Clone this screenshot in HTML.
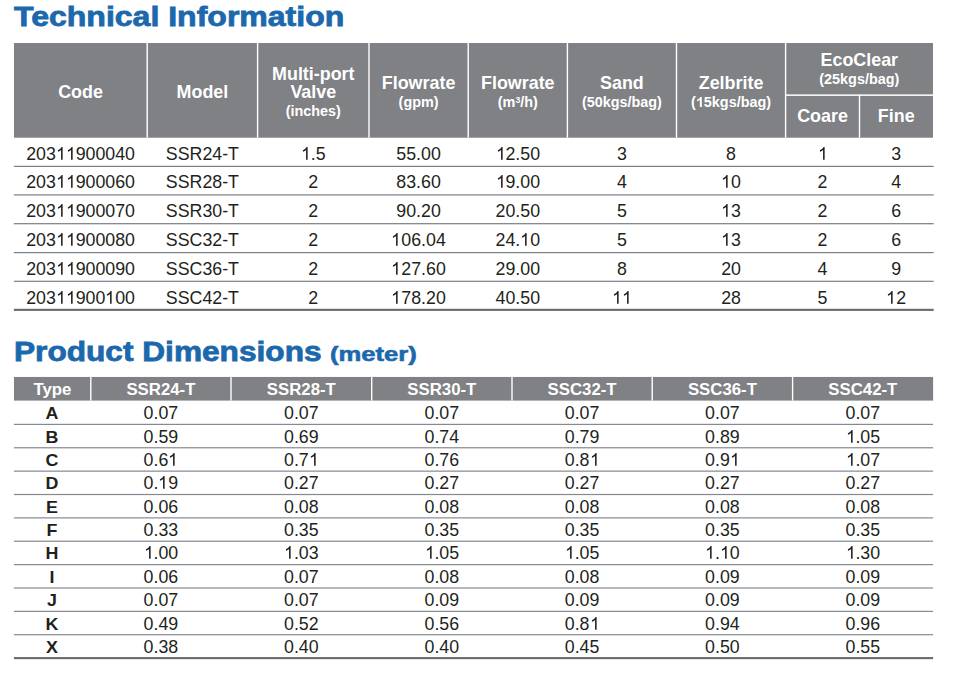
<!DOCTYPE html>
<html><head><meta charset="utf-8"><style>
html,body{margin:0;padding:0;background:#fff;}
body{width:959px;height:674px;position:relative;overflow:hidden;font-family:"Liberation Sans",sans-serif;}
svg.bg{position:absolute;left:0;top:0;}
.t{position:absolute;white-space:nowrap;}
.o{display:inline-block;width:0.5562em;height:0.72266em;vertical-align:baseline;fill:currentColor;}
sup{font-size:0.6em;vertical-align:0;position:relative;top:-0.45em;line-height:0;}
</style></head><body>
<svg class="bg" width="959" height="674" viewBox="0 0 959 674">
<rect x="13.95" y="43.00" width="919.05" height="94.70" fill="#808185"/>
<rect x="146.50" y="43.00" width="1.40" height="94.70" fill="#fff"/>
<rect x="256.90" y="43.00" width="1.40" height="94.70" fill="#fff"/>
<rect x="368.30" y="43.00" width="1.40" height="94.70" fill="#fff"/>
<rect x="467.50" y="43.00" width="1.40" height="94.70" fill="#fff"/>
<rect x="566.70" y="43.00" width="1.40" height="94.70" fill="#fff"/>
<rect x="675.80" y="43.00" width="1.40" height="94.70" fill="#fff"/>
<rect x="784.90" y="43.00" width="1.40" height="94.70" fill="#fff"/>
<rect x="858.80" y="94.60" width="1.40" height="43.10" fill="#fff"/>
<rect x="785.60" y="94.40" width="147.40" height="1.50" fill="#fff"/>
<rect x="13.90" y="165.80" width="919.80" height="1.20" fill="#7b7e83"/>
<rect x="13.90" y="194.30" width="919.80" height="1.20" fill="#7b7e83"/>
<rect x="13.90" y="223.10" width="919.80" height="1.20" fill="#7b7e83"/>
<rect x="13.90" y="252.00" width="919.80" height="1.20" fill="#7b7e83"/>
<rect x="13.90" y="280.70" width="919.80" height="1.20" fill="#7b7e83"/>
<rect x="13.90" y="308.80" width="919.80" height="2.10" fill="#676a6f"/>
<rect x="13.95" y="376.95" width="919.15" height="23.65" fill="#808185"/>
<rect x="90.10" y="376.95" width="1.40" height="23.65" fill="#fff"/>
<rect x="230.30" y="376.95" width="1.40" height="23.65" fill="#fff"/>
<rect x="371.00" y="376.95" width="1.40" height="23.65" fill="#fff"/>
<rect x="511.30" y="376.95" width="1.40" height="23.65" fill="#fff"/>
<rect x="651.50" y="376.95" width="1.40" height="23.65" fill="#fff"/>
<rect x="791.90" y="376.95" width="1.40" height="23.65" fill="#fff"/>
<rect x="13.95" y="423.80" width="919.15" height="1.20" fill="#868990"/>
<rect x="13.95" y="447.17" width="919.15" height="1.20" fill="#868990"/>
<rect x="13.95" y="470.54" width="919.15" height="1.20" fill="#868990"/>
<rect x="13.95" y="493.91" width="919.15" height="1.20" fill="#868990"/>
<rect x="13.95" y="517.28" width="919.15" height="1.20" fill="#868990"/>
<rect x="13.95" y="540.65" width="919.15" height="1.20" fill="#868990"/>
<rect x="13.95" y="564.02" width="919.15" height="1.20" fill="#868990"/>
<rect x="13.95" y="587.39" width="919.15" height="1.20" fill="#868990"/>
<rect x="13.95" y="610.76" width="919.15" height="1.20" fill="#868990"/>
<rect x="13.95" y="634.13" width="919.15" height="1.20" fill="#868990"/>
<rect x="13.95" y="657.05" width="919.15" height="2.10" fill="#676a6f"/>
</svg>
<div class="t" style="top:3px;font-size:27.9px;line-height:27.9px;color:#1c68ad;font-weight:bold;-webkit-text-stroke:0.8px #1c68ad;left:14.34px;transform:scaleX(1.148);transform-origin:0 0;">Technical Information</div>
<div class="t" style="top:338px;font-size:27.9px;line-height:27.9px;color:#1c68ad;font-weight:bold;-webkit-text-stroke:0.8px #1c68ad;left:14.28px;transform:scaleX(1.134);transform-origin:0 0;">Product Dimensions</div>
<div class="t" style="top:343px;font-size:21px;line-height:21px;color:#1c68ad;font-weight:bold;-webkit-text-stroke:0.6px #1c68ad;left:330.00px;transform:scaleX(1.22);transform-origin:0 0;">(meter)</div>
<div class="t" style="top:84px;font-size:17.9px;line-height:17.9px;color:#fff;font-weight:bold;left:-219.43px;width:600px;text-align:center;">Code</div>
<div class="t" style="top:84px;font-size:17.9px;line-height:17.9px;color:#fff;font-weight:bold;left:-97.60px;width:600px;text-align:center;">Model</div>
<div class="t" style="top:66px;font-size:17.9px;line-height:17.9px;color:#fff;font-weight:bold;left:13.30px;width:600px;text-align:center;">Multi-port</div>
<div class="t" style="top:84px;font-size:17.9px;line-height:17.9px;color:#fff;font-weight:bold;left:13.30px;width:600px;text-align:center;">Valve</div>
<div class="t" style="top:104px;font-size:14.4px;line-height:14.4px;color:#fff;font-weight:bold;left:13.30px;width:600px;text-align:center;">(inches)</div>
<div class="t" style="top:75px;font-size:17.9px;line-height:17.9px;color:#fff;font-weight:bold;left:118.60px;width:600px;text-align:center;">Flowrate</div>
<div class="t" style="top:95px;font-size:14.4px;line-height:14.4px;color:#fff;font-weight:bold;left:118.60px;width:600px;text-align:center;">(gpm)</div>
<div class="t" style="top:75px;font-size:17.9px;line-height:17.9px;color:#fff;font-weight:bold;left:217.80px;width:600px;text-align:center;">Flowrate</div>
<div class="t" style="top:95px;font-size:14.4px;line-height:14.4px;color:#fff;font-weight:bold;left:217.80px;width:600px;text-align:center;">(m<sup>3</sup>/h)</div>
<div class="t" style="top:75px;font-size:17.9px;line-height:17.9px;color:#fff;font-weight:bold;left:321.95px;width:600px;text-align:center;">Sand</div>
<div class="t" style="top:95px;font-size:14.4px;line-height:14.4px;color:#fff;font-weight:bold;left:321.95px;width:600px;text-align:center;">(50kgs/bag)</div>
<div class="t" style="top:75px;font-size:17.9px;line-height:17.9px;color:#fff;font-weight:bold;left:431.05px;width:600px;text-align:center;">Zelbrite</div>
<div class="t" style="top:95px;font-size:14.4px;line-height:14.4px;color:#fff;font-weight:bold;left:431.05px;width:600px;text-align:center;">(<svg class="o" viewBox="0 0 1139 1480"><path transform="matrix(1 0 0 -1 0 1480)" d="M544 0L825 0L825 1466L597 1466C565 1376 503 1297 413 1229C323 1161 240 1115 152 1085L152 829C308 880 437 961 544 1073Z"/></svg>5kgs/bag)</div>
<div class="t" style="top:52px;font-size:17.9px;line-height:17.9px;color:#fff;font-weight:bold;left:559.30px;width:600px;text-align:center;">EcoClear</div>
<div class="t" style="top:72px;font-size:14.4px;line-height:14.4px;color:#fff;font-weight:bold;left:559.30px;width:600px;text-align:center;">(25kgs/bag)</div>
<div class="t" style="top:108px;font-size:17.9px;line-height:17.9px;color:#fff;font-weight:bold;left:522.55px;width:600px;text-align:center;">Coare</div>
<div class="t" style="top:108px;font-size:17.9px;line-height:17.9px;color:#fff;font-weight:bold;left:596.25px;width:600px;text-align:center;">Fine</div>
<div class="t" style="top:146px;font-size:17.8px;line-height:17.8px;color:#231f20;left:-219.43px;width:600px;text-align:center;">203<svg class="o" viewBox="0 0 1139 1480"><path transform="matrix(1 0 0 -1 0 1480)" d="M583 0L763 0L763 1472L646 1472C615 1409 563 1344 490 1277C417 1210 330 1150 222 1104L222 930C282 952 350 985 426 1028C502 1071 554 1111 583 1147Z"/></svg><svg class="o" viewBox="0 0 1139 1480"><path transform="matrix(1 0 0 -1 0 1480)" d="M583 0L763 0L763 1472L646 1472C615 1409 563 1344 490 1277C417 1210 330 1150 222 1104L222 930C282 952 350 985 426 1028C502 1071 554 1111 583 1147Z"/></svg>900040</div>
<div class="t" style="top:146px;font-size:17.8px;line-height:17.8px;color:#231f20;left:-97.60px;width:600px;text-align:center;">SSR24-T</div>
<div class="t" style="top:146px;font-size:17.8px;line-height:17.8px;color:#231f20;left:13.30px;width:600px;text-align:center;"><svg class="o" viewBox="0 0 1139 1480"><path transform="matrix(1 0 0 -1 0 1480)" d="M583 0L763 0L763 1472L646 1472C615 1409 563 1344 490 1277C417 1210 330 1150 222 1104L222 930C282 952 350 985 426 1028C502 1071 554 1111 583 1147Z"/></svg>.5</div>
<div class="t" style="top:146px;font-size:17.8px;line-height:17.8px;color:#231f20;left:118.60px;width:600px;text-align:center;">55.00</div>
<div class="t" style="top:146px;font-size:17.8px;line-height:17.8px;color:#231f20;left:217.80px;width:600px;text-align:center;"><svg class="o" viewBox="0 0 1139 1480"><path transform="matrix(1 0 0 -1 0 1480)" d="M583 0L763 0L763 1472L646 1472C615 1409 563 1344 490 1277C417 1210 330 1150 222 1104L222 930C282 952 350 985 426 1028C502 1071 554 1111 583 1147Z"/></svg>2.50</div>
<div class="t" style="top:146px;font-size:17.8px;line-height:17.8px;color:#231f20;left:321.95px;width:600px;text-align:center;">3</div>
<div class="t" style="top:146px;font-size:17.8px;line-height:17.8px;color:#231f20;left:431.05px;width:600px;text-align:center;">8</div>
<div class="t" style="top:146px;font-size:17.8px;line-height:17.8px;color:#231f20;left:522.55px;width:600px;text-align:center;"><svg class="o" viewBox="0 0 1139 1480"><path transform="matrix(1 0 0 -1 0 1480)" d="M583 0L763 0L763 1472L646 1472C615 1409 563 1344 490 1277C417 1210 330 1150 222 1104L222 930C282 952 350 985 426 1028C502 1071 554 1111 583 1147Z"/></svg></div>
<div class="t" style="top:146px;font-size:17.8px;line-height:17.8px;color:#231f20;left:596.25px;width:600px;text-align:center;">3</div>
<div class="t" style="top:174px;font-size:17.8px;line-height:17.8px;color:#231f20;left:-219.43px;width:600px;text-align:center;">203<svg class="o" viewBox="0 0 1139 1480"><path transform="matrix(1 0 0 -1 0 1480)" d="M583 0L763 0L763 1472L646 1472C615 1409 563 1344 490 1277C417 1210 330 1150 222 1104L222 930C282 952 350 985 426 1028C502 1071 554 1111 583 1147Z"/></svg><svg class="o" viewBox="0 0 1139 1480"><path transform="matrix(1 0 0 -1 0 1480)" d="M583 0L763 0L763 1472L646 1472C615 1409 563 1344 490 1277C417 1210 330 1150 222 1104L222 930C282 952 350 985 426 1028C502 1071 554 1111 583 1147Z"/></svg>900060</div>
<div class="t" style="top:174px;font-size:17.8px;line-height:17.8px;color:#231f20;left:-97.60px;width:600px;text-align:center;">SSR28-T</div>
<div class="t" style="top:174px;font-size:17.8px;line-height:17.8px;color:#231f20;left:13.30px;width:600px;text-align:center;">2</div>
<div class="t" style="top:174px;font-size:17.8px;line-height:17.8px;color:#231f20;left:118.60px;width:600px;text-align:center;">83.60</div>
<div class="t" style="top:174px;font-size:17.8px;line-height:17.8px;color:#231f20;left:217.80px;width:600px;text-align:center;"><svg class="o" viewBox="0 0 1139 1480"><path transform="matrix(1 0 0 -1 0 1480)" d="M583 0L763 0L763 1472L646 1472C615 1409 563 1344 490 1277C417 1210 330 1150 222 1104L222 930C282 952 350 985 426 1028C502 1071 554 1111 583 1147Z"/></svg>9.00</div>
<div class="t" style="top:174px;font-size:17.8px;line-height:17.8px;color:#231f20;left:321.95px;width:600px;text-align:center;">4</div>
<div class="t" style="top:174px;font-size:17.8px;line-height:17.8px;color:#231f20;left:431.05px;width:600px;text-align:center;"><svg class="o" viewBox="0 0 1139 1480"><path transform="matrix(1 0 0 -1 0 1480)" d="M583 0L763 0L763 1472L646 1472C615 1409 563 1344 490 1277C417 1210 330 1150 222 1104L222 930C282 952 350 985 426 1028C502 1071 554 1111 583 1147Z"/></svg>0</div>
<div class="t" style="top:174px;font-size:17.8px;line-height:17.8px;color:#231f20;left:522.55px;width:600px;text-align:center;">2</div>
<div class="t" style="top:174px;font-size:17.8px;line-height:17.8px;color:#231f20;left:596.25px;width:600px;text-align:center;">4</div>
<div class="t" style="top:203px;font-size:17.8px;line-height:17.8px;color:#231f20;left:-219.43px;width:600px;text-align:center;">203<svg class="o" viewBox="0 0 1139 1480"><path transform="matrix(1 0 0 -1 0 1480)" d="M583 0L763 0L763 1472L646 1472C615 1409 563 1344 490 1277C417 1210 330 1150 222 1104L222 930C282 952 350 985 426 1028C502 1071 554 1111 583 1147Z"/></svg><svg class="o" viewBox="0 0 1139 1480"><path transform="matrix(1 0 0 -1 0 1480)" d="M583 0L763 0L763 1472L646 1472C615 1409 563 1344 490 1277C417 1210 330 1150 222 1104L222 930C282 952 350 985 426 1028C502 1071 554 1111 583 1147Z"/></svg>900070</div>
<div class="t" style="top:203px;font-size:17.8px;line-height:17.8px;color:#231f20;left:-97.60px;width:600px;text-align:center;">SSR30-T</div>
<div class="t" style="top:203px;font-size:17.8px;line-height:17.8px;color:#231f20;left:13.30px;width:600px;text-align:center;">2</div>
<div class="t" style="top:203px;font-size:17.8px;line-height:17.8px;color:#231f20;left:118.60px;width:600px;text-align:center;">90.20</div>
<div class="t" style="top:203px;font-size:17.8px;line-height:17.8px;color:#231f20;left:217.80px;width:600px;text-align:center;">20.50</div>
<div class="t" style="top:203px;font-size:17.8px;line-height:17.8px;color:#231f20;left:321.95px;width:600px;text-align:center;">5</div>
<div class="t" style="top:203px;font-size:17.8px;line-height:17.8px;color:#231f20;left:431.05px;width:600px;text-align:center;"><svg class="o" viewBox="0 0 1139 1480"><path transform="matrix(1 0 0 -1 0 1480)" d="M583 0L763 0L763 1472L646 1472C615 1409 563 1344 490 1277C417 1210 330 1150 222 1104L222 930C282 952 350 985 426 1028C502 1071 554 1111 583 1147Z"/></svg>3</div>
<div class="t" style="top:203px;font-size:17.8px;line-height:17.8px;color:#231f20;left:522.55px;width:600px;text-align:center;">2</div>
<div class="t" style="top:203px;font-size:17.8px;line-height:17.8px;color:#231f20;left:596.25px;width:600px;text-align:center;">6</div>
<div class="t" style="top:232px;font-size:17.8px;line-height:17.8px;color:#231f20;left:-219.43px;width:600px;text-align:center;">203<svg class="o" viewBox="0 0 1139 1480"><path transform="matrix(1 0 0 -1 0 1480)" d="M583 0L763 0L763 1472L646 1472C615 1409 563 1344 490 1277C417 1210 330 1150 222 1104L222 930C282 952 350 985 426 1028C502 1071 554 1111 583 1147Z"/></svg><svg class="o" viewBox="0 0 1139 1480"><path transform="matrix(1 0 0 -1 0 1480)" d="M583 0L763 0L763 1472L646 1472C615 1409 563 1344 490 1277C417 1210 330 1150 222 1104L222 930C282 952 350 985 426 1028C502 1071 554 1111 583 1147Z"/></svg>900080</div>
<div class="t" style="top:232px;font-size:17.8px;line-height:17.8px;color:#231f20;left:-97.60px;width:600px;text-align:center;">SSC32-T</div>
<div class="t" style="top:232px;font-size:17.8px;line-height:17.8px;color:#231f20;left:13.30px;width:600px;text-align:center;">2</div>
<div class="t" style="top:232px;font-size:17.8px;line-height:17.8px;color:#231f20;left:118.60px;width:600px;text-align:center;"><svg class="o" viewBox="0 0 1139 1480"><path transform="matrix(1 0 0 -1 0 1480)" d="M583 0L763 0L763 1472L646 1472C615 1409 563 1344 490 1277C417 1210 330 1150 222 1104L222 930C282 952 350 985 426 1028C502 1071 554 1111 583 1147Z"/></svg>06.04</div>
<div class="t" style="top:232px;font-size:17.8px;line-height:17.8px;color:#231f20;left:217.80px;width:600px;text-align:center;">24.<svg class="o" viewBox="0 0 1139 1480"><path transform="matrix(1 0 0 -1 0 1480)" d="M583 0L763 0L763 1472L646 1472C615 1409 563 1344 490 1277C417 1210 330 1150 222 1104L222 930C282 952 350 985 426 1028C502 1071 554 1111 583 1147Z"/></svg>0</div>
<div class="t" style="top:232px;font-size:17.8px;line-height:17.8px;color:#231f20;left:321.95px;width:600px;text-align:center;">5</div>
<div class="t" style="top:232px;font-size:17.8px;line-height:17.8px;color:#231f20;left:431.05px;width:600px;text-align:center;"><svg class="o" viewBox="0 0 1139 1480"><path transform="matrix(1 0 0 -1 0 1480)" d="M583 0L763 0L763 1472L646 1472C615 1409 563 1344 490 1277C417 1210 330 1150 222 1104L222 930C282 952 350 985 426 1028C502 1071 554 1111 583 1147Z"/></svg>3</div>
<div class="t" style="top:232px;font-size:17.8px;line-height:17.8px;color:#231f20;left:522.55px;width:600px;text-align:center;">2</div>
<div class="t" style="top:232px;font-size:17.8px;line-height:17.8px;color:#231f20;left:596.25px;width:600px;text-align:center;">6</div>
<div class="t" style="top:261px;font-size:17.8px;line-height:17.8px;color:#231f20;left:-219.43px;width:600px;text-align:center;">203<svg class="o" viewBox="0 0 1139 1480"><path transform="matrix(1 0 0 -1 0 1480)" d="M583 0L763 0L763 1472L646 1472C615 1409 563 1344 490 1277C417 1210 330 1150 222 1104L222 930C282 952 350 985 426 1028C502 1071 554 1111 583 1147Z"/></svg><svg class="o" viewBox="0 0 1139 1480"><path transform="matrix(1 0 0 -1 0 1480)" d="M583 0L763 0L763 1472L646 1472C615 1409 563 1344 490 1277C417 1210 330 1150 222 1104L222 930C282 952 350 985 426 1028C502 1071 554 1111 583 1147Z"/></svg>900090</div>
<div class="t" style="top:261px;font-size:17.8px;line-height:17.8px;color:#231f20;left:-97.60px;width:600px;text-align:center;">SSC36-T</div>
<div class="t" style="top:261px;font-size:17.8px;line-height:17.8px;color:#231f20;left:13.30px;width:600px;text-align:center;">2</div>
<div class="t" style="top:261px;font-size:17.8px;line-height:17.8px;color:#231f20;left:118.60px;width:600px;text-align:center;"><svg class="o" viewBox="0 0 1139 1480"><path transform="matrix(1 0 0 -1 0 1480)" d="M583 0L763 0L763 1472L646 1472C615 1409 563 1344 490 1277C417 1210 330 1150 222 1104L222 930C282 952 350 985 426 1028C502 1071 554 1111 583 1147Z"/></svg>27.60</div>
<div class="t" style="top:261px;font-size:17.8px;line-height:17.8px;color:#231f20;left:217.80px;width:600px;text-align:center;">29.00</div>
<div class="t" style="top:261px;font-size:17.8px;line-height:17.8px;color:#231f20;left:321.95px;width:600px;text-align:center;">8</div>
<div class="t" style="top:261px;font-size:17.8px;line-height:17.8px;color:#231f20;left:431.05px;width:600px;text-align:center;">20</div>
<div class="t" style="top:261px;font-size:17.8px;line-height:17.8px;color:#231f20;left:522.55px;width:600px;text-align:center;">4</div>
<div class="t" style="top:261px;font-size:17.8px;line-height:17.8px;color:#231f20;left:596.25px;width:600px;text-align:center;">9</div>
<div class="t" style="top:290px;font-size:17.8px;line-height:17.8px;color:#231f20;left:-219.43px;width:600px;text-align:center;">203<svg class="o" viewBox="0 0 1139 1480"><path transform="matrix(1 0 0 -1 0 1480)" d="M583 0L763 0L763 1472L646 1472C615 1409 563 1344 490 1277C417 1210 330 1150 222 1104L222 930C282 952 350 985 426 1028C502 1071 554 1111 583 1147Z"/></svg><svg class="o" viewBox="0 0 1139 1480"><path transform="matrix(1 0 0 -1 0 1480)" d="M583 0L763 0L763 1472L646 1472C615 1409 563 1344 490 1277C417 1210 330 1150 222 1104L222 930C282 952 350 985 426 1028C502 1071 554 1111 583 1147Z"/></svg>900<svg class="o" viewBox="0 0 1139 1480"><path transform="matrix(1 0 0 -1 0 1480)" d="M583 0L763 0L763 1472L646 1472C615 1409 563 1344 490 1277C417 1210 330 1150 222 1104L222 930C282 952 350 985 426 1028C502 1071 554 1111 583 1147Z"/></svg>00</div>
<div class="t" style="top:290px;font-size:17.8px;line-height:17.8px;color:#231f20;left:-97.60px;width:600px;text-align:center;">SSC42-T</div>
<div class="t" style="top:290px;font-size:17.8px;line-height:17.8px;color:#231f20;left:13.30px;width:600px;text-align:center;">2</div>
<div class="t" style="top:290px;font-size:17.8px;line-height:17.8px;color:#231f20;left:118.60px;width:600px;text-align:center;"><svg class="o" viewBox="0 0 1139 1480"><path transform="matrix(1 0 0 -1 0 1480)" d="M583 0L763 0L763 1472L646 1472C615 1409 563 1344 490 1277C417 1210 330 1150 222 1104L222 930C282 952 350 985 426 1028C502 1071 554 1111 583 1147Z"/></svg>78.20</div>
<div class="t" style="top:290px;font-size:17.8px;line-height:17.8px;color:#231f20;left:217.80px;width:600px;text-align:center;">40.50</div>
<div class="t" style="top:290px;font-size:17.8px;line-height:17.8px;color:#231f20;left:321.95px;width:600px;text-align:center;"><svg class="o" viewBox="0 0 1139 1480"><path transform="matrix(1 0 0 -1 0 1480)" d="M583 0L763 0L763 1472L646 1472C615 1409 563 1344 490 1277C417 1210 330 1150 222 1104L222 930C282 952 350 985 426 1028C502 1071 554 1111 583 1147Z"/></svg><svg class="o" viewBox="0 0 1139 1480"><path transform="matrix(1 0 0 -1 0 1480)" d="M583 0L763 0L763 1472L646 1472C615 1409 563 1344 490 1277C417 1210 330 1150 222 1104L222 930C282 952 350 985 426 1028C502 1071 554 1111 583 1147Z"/></svg></div>
<div class="t" style="top:290px;font-size:17.8px;line-height:17.8px;color:#231f20;left:431.05px;width:600px;text-align:center;">28</div>
<div class="t" style="top:290px;font-size:17.8px;line-height:17.8px;color:#231f20;left:522.55px;width:600px;text-align:center;">5</div>
<div class="t" style="top:290px;font-size:17.8px;line-height:17.8px;color:#231f20;left:596.25px;width:600px;text-align:center;"><svg class="o" viewBox="0 0 1139 1480"><path transform="matrix(1 0 0 -1 0 1480)" d="M583 0L763 0L763 1472L646 1472C615 1409 563 1344 490 1277C417 1210 330 1150 222 1104L222 930C282 952 350 985 426 1028C502 1071 554 1111 583 1147Z"/></svg>2</div>
<div class="t" style="top:382px;font-size:16.8px;line-height:16.8px;color:#fff;font-weight:bold;left:-247.62px;width:600px;text-align:center;">Type</div>
<div class="t" style="top:382px;font-size:16.8px;line-height:16.8px;color:#fff;font-weight:bold;left:-139.10px;width:600px;text-align:center;">SSR24-T</div>
<div class="t" style="top:382px;font-size:16.8px;line-height:16.8px;color:#fff;font-weight:bold;left:1.35px;width:600px;text-align:center;">SSR28-T</div>
<div class="t" style="top:382px;font-size:16.8px;line-height:16.8px;color:#fff;font-weight:bold;left:141.85px;width:600px;text-align:center;">SSR30-T</div>
<div class="t" style="top:382px;font-size:16.8px;line-height:16.8px;color:#fff;font-weight:bold;left:282.10px;width:600px;text-align:center;">SSC32-T</div>
<div class="t" style="top:382px;font-size:16.8px;line-height:16.8px;color:#fff;font-weight:bold;left:422.40px;width:600px;text-align:center;">SSC36-T</div>
<div class="t" style="top:382px;font-size:16.8px;line-height:16.8px;color:#fff;font-weight:bold;left:562.85px;width:600px;text-align:center;">SSC42-T</div>
<div class="t" style="top:405px;font-size:16.5px;line-height:16.5px;color:#231f20;font-weight:bold;left:-247.62px;width:600px;text-align:center;transform:scaleX(1.08);transform-origin:50% 0;">A</div>
<div class="t" style="top:405px;font-size:17.8px;line-height:17.8px;color:#231f20;left:-139.10px;width:600px;text-align:center;">0.07</div>
<div class="t" style="top:405px;font-size:17.8px;line-height:17.8px;color:#231f20;left:1.35px;width:600px;text-align:center;">0.07</div>
<div class="t" style="top:405px;font-size:17.8px;line-height:17.8px;color:#231f20;left:141.85px;width:600px;text-align:center;">0.07</div>
<div class="t" style="top:405px;font-size:17.8px;line-height:17.8px;color:#231f20;left:282.10px;width:600px;text-align:center;">0.07</div>
<div class="t" style="top:405px;font-size:17.8px;line-height:17.8px;color:#231f20;left:422.40px;width:600px;text-align:center;">0.07</div>
<div class="t" style="top:405px;font-size:17.8px;line-height:17.8px;color:#231f20;left:562.85px;width:600px;text-align:center;">0.07</div>
<div class="t" style="top:429px;font-size:16.5px;line-height:16.5px;color:#231f20;font-weight:bold;left:-247.62px;width:600px;text-align:center;transform:scaleX(1.08);transform-origin:50% 0;">B</div>
<div class="t" style="top:429px;font-size:17.8px;line-height:17.8px;color:#231f20;left:-139.10px;width:600px;text-align:center;">0.59</div>
<div class="t" style="top:429px;font-size:17.8px;line-height:17.8px;color:#231f20;left:1.35px;width:600px;text-align:center;">0.69</div>
<div class="t" style="top:429px;font-size:17.8px;line-height:17.8px;color:#231f20;left:141.85px;width:600px;text-align:center;">0.74</div>
<div class="t" style="top:429px;font-size:17.8px;line-height:17.8px;color:#231f20;left:282.10px;width:600px;text-align:center;">0.79</div>
<div class="t" style="top:429px;font-size:17.8px;line-height:17.8px;color:#231f20;left:422.40px;width:600px;text-align:center;">0.89</div>
<div class="t" style="top:429px;font-size:17.8px;line-height:17.8px;color:#231f20;left:562.85px;width:600px;text-align:center;"><svg class="o" viewBox="0 0 1139 1480"><path transform="matrix(1 0 0 -1 0 1480)" d="M583 0L763 0L763 1472L646 1472C615 1409 563 1344 490 1277C417 1210 330 1150 222 1104L222 930C282 952 350 985 426 1028C502 1071 554 1111 583 1147Z"/></svg>.05</div>
<div class="t" style="top:452px;font-size:16.5px;line-height:16.5px;color:#231f20;font-weight:bold;left:-247.62px;width:600px;text-align:center;transform:scaleX(1.08);transform-origin:50% 0;">C</div>
<div class="t" style="top:452px;font-size:17.8px;line-height:17.8px;color:#231f20;left:-139.10px;width:600px;text-align:center;">0.6<svg class="o" viewBox="0 0 1139 1480"><path transform="matrix(1 0 0 -1 0 1480)" d="M583 0L763 0L763 1472L646 1472C615 1409 563 1344 490 1277C417 1210 330 1150 222 1104L222 930C282 952 350 985 426 1028C502 1071 554 1111 583 1147Z"/></svg></div>
<div class="t" style="top:452px;font-size:17.8px;line-height:17.8px;color:#231f20;left:1.35px;width:600px;text-align:center;">0.7<svg class="o" viewBox="0 0 1139 1480"><path transform="matrix(1 0 0 -1 0 1480)" d="M583 0L763 0L763 1472L646 1472C615 1409 563 1344 490 1277C417 1210 330 1150 222 1104L222 930C282 952 350 985 426 1028C502 1071 554 1111 583 1147Z"/></svg></div>
<div class="t" style="top:452px;font-size:17.8px;line-height:17.8px;color:#231f20;left:141.85px;width:600px;text-align:center;">0.76</div>
<div class="t" style="top:452px;font-size:17.8px;line-height:17.8px;color:#231f20;left:282.10px;width:600px;text-align:center;">0.8<svg class="o" viewBox="0 0 1139 1480"><path transform="matrix(1 0 0 -1 0 1480)" d="M583 0L763 0L763 1472L646 1472C615 1409 563 1344 490 1277C417 1210 330 1150 222 1104L222 930C282 952 350 985 426 1028C502 1071 554 1111 583 1147Z"/></svg></div>
<div class="t" style="top:452px;font-size:17.8px;line-height:17.8px;color:#231f20;left:422.40px;width:600px;text-align:center;">0.9<svg class="o" viewBox="0 0 1139 1480"><path transform="matrix(1 0 0 -1 0 1480)" d="M583 0L763 0L763 1472L646 1472C615 1409 563 1344 490 1277C417 1210 330 1150 222 1104L222 930C282 952 350 985 426 1028C502 1071 554 1111 583 1147Z"/></svg></div>
<div class="t" style="top:452px;font-size:17.8px;line-height:17.8px;color:#231f20;left:562.85px;width:600px;text-align:center;"><svg class="o" viewBox="0 0 1139 1480"><path transform="matrix(1 0 0 -1 0 1480)" d="M583 0L763 0L763 1472L646 1472C615 1409 563 1344 490 1277C417 1210 330 1150 222 1104L222 930C282 952 350 985 426 1028C502 1071 554 1111 583 1147Z"/></svg>.07</div>
<div class="t" style="top:475px;font-size:16.5px;line-height:16.5px;color:#231f20;font-weight:bold;left:-247.62px;width:600px;text-align:center;transform:scaleX(1.08);transform-origin:50% 0;">D</div>
<div class="t" style="top:475px;font-size:17.8px;line-height:17.8px;color:#231f20;left:-139.10px;width:600px;text-align:center;">0.<svg class="o" viewBox="0 0 1139 1480"><path transform="matrix(1 0 0 -1 0 1480)" d="M583 0L763 0L763 1472L646 1472C615 1409 563 1344 490 1277C417 1210 330 1150 222 1104L222 930C282 952 350 985 426 1028C502 1071 554 1111 583 1147Z"/></svg>9</div>
<div class="t" style="top:475px;font-size:17.8px;line-height:17.8px;color:#231f20;left:1.35px;width:600px;text-align:center;">0.27</div>
<div class="t" style="top:475px;font-size:17.8px;line-height:17.8px;color:#231f20;left:141.85px;width:600px;text-align:center;">0.27</div>
<div class="t" style="top:475px;font-size:17.8px;line-height:17.8px;color:#231f20;left:282.10px;width:600px;text-align:center;">0.27</div>
<div class="t" style="top:475px;font-size:17.8px;line-height:17.8px;color:#231f20;left:422.40px;width:600px;text-align:center;">0.27</div>
<div class="t" style="top:475px;font-size:17.8px;line-height:17.8px;color:#231f20;left:562.85px;width:600px;text-align:center;">0.27</div>
<div class="t" style="top:499px;font-size:16.5px;line-height:16.5px;color:#231f20;font-weight:bold;left:-247.62px;width:600px;text-align:center;transform:scaleX(1.08);transform-origin:50% 0;">E</div>
<div class="t" style="top:499px;font-size:17.8px;line-height:17.8px;color:#231f20;left:-139.10px;width:600px;text-align:center;">0.06</div>
<div class="t" style="top:499px;font-size:17.8px;line-height:17.8px;color:#231f20;left:1.35px;width:600px;text-align:center;">0.08</div>
<div class="t" style="top:499px;font-size:17.8px;line-height:17.8px;color:#231f20;left:141.85px;width:600px;text-align:center;">0.08</div>
<div class="t" style="top:499px;font-size:17.8px;line-height:17.8px;color:#231f20;left:282.10px;width:600px;text-align:center;">0.08</div>
<div class="t" style="top:499px;font-size:17.8px;line-height:17.8px;color:#231f20;left:422.40px;width:600px;text-align:center;">0.08</div>
<div class="t" style="top:499px;font-size:17.8px;line-height:17.8px;color:#231f20;left:562.85px;width:600px;text-align:center;">0.08</div>
<div class="t" style="top:522px;font-size:16.5px;line-height:16.5px;color:#231f20;font-weight:bold;left:-247.62px;width:600px;text-align:center;transform:scaleX(1.08);transform-origin:50% 0;">F</div>
<div class="t" style="top:522px;font-size:17.8px;line-height:17.8px;color:#231f20;left:-139.10px;width:600px;text-align:center;">0.33</div>
<div class="t" style="top:522px;font-size:17.8px;line-height:17.8px;color:#231f20;left:1.35px;width:600px;text-align:center;">0.35</div>
<div class="t" style="top:522px;font-size:17.8px;line-height:17.8px;color:#231f20;left:141.85px;width:600px;text-align:center;">0.35</div>
<div class="t" style="top:522px;font-size:17.8px;line-height:17.8px;color:#231f20;left:282.10px;width:600px;text-align:center;">0.35</div>
<div class="t" style="top:522px;font-size:17.8px;line-height:17.8px;color:#231f20;left:422.40px;width:600px;text-align:center;">0.35</div>
<div class="t" style="top:522px;font-size:17.8px;line-height:17.8px;color:#231f20;left:562.85px;width:600px;text-align:center;">0.35</div>
<div class="t" style="top:545px;font-size:16.5px;line-height:16.5px;color:#231f20;font-weight:bold;left:-247.62px;width:600px;text-align:center;transform:scaleX(1.08);transform-origin:50% 0;">H</div>
<div class="t" style="top:545px;font-size:17.8px;line-height:17.8px;color:#231f20;left:-139.10px;width:600px;text-align:center;"><svg class="o" viewBox="0 0 1139 1480"><path transform="matrix(1 0 0 -1 0 1480)" d="M583 0L763 0L763 1472L646 1472C615 1409 563 1344 490 1277C417 1210 330 1150 222 1104L222 930C282 952 350 985 426 1028C502 1071 554 1111 583 1147Z"/></svg>.00</div>
<div class="t" style="top:545px;font-size:17.8px;line-height:17.8px;color:#231f20;left:1.35px;width:600px;text-align:center;"><svg class="o" viewBox="0 0 1139 1480"><path transform="matrix(1 0 0 -1 0 1480)" d="M583 0L763 0L763 1472L646 1472C615 1409 563 1344 490 1277C417 1210 330 1150 222 1104L222 930C282 952 350 985 426 1028C502 1071 554 1111 583 1147Z"/></svg>.03</div>
<div class="t" style="top:545px;font-size:17.8px;line-height:17.8px;color:#231f20;left:141.85px;width:600px;text-align:center;"><svg class="o" viewBox="0 0 1139 1480"><path transform="matrix(1 0 0 -1 0 1480)" d="M583 0L763 0L763 1472L646 1472C615 1409 563 1344 490 1277C417 1210 330 1150 222 1104L222 930C282 952 350 985 426 1028C502 1071 554 1111 583 1147Z"/></svg>.05</div>
<div class="t" style="top:545px;font-size:17.8px;line-height:17.8px;color:#231f20;left:282.10px;width:600px;text-align:center;"><svg class="o" viewBox="0 0 1139 1480"><path transform="matrix(1 0 0 -1 0 1480)" d="M583 0L763 0L763 1472L646 1472C615 1409 563 1344 490 1277C417 1210 330 1150 222 1104L222 930C282 952 350 985 426 1028C502 1071 554 1111 583 1147Z"/></svg>.05</div>
<div class="t" style="top:545px;font-size:17.8px;line-height:17.8px;color:#231f20;left:422.40px;width:600px;text-align:center;"><svg class="o" viewBox="0 0 1139 1480"><path transform="matrix(1 0 0 -1 0 1480)" d="M583 0L763 0L763 1472L646 1472C615 1409 563 1344 490 1277C417 1210 330 1150 222 1104L222 930C282 952 350 985 426 1028C502 1071 554 1111 583 1147Z"/></svg>.<svg class="o" viewBox="0 0 1139 1480"><path transform="matrix(1 0 0 -1 0 1480)" d="M583 0L763 0L763 1472L646 1472C615 1409 563 1344 490 1277C417 1210 330 1150 222 1104L222 930C282 952 350 985 426 1028C502 1071 554 1111 583 1147Z"/></svg>0</div>
<div class="t" style="top:545px;font-size:17.8px;line-height:17.8px;color:#231f20;left:562.85px;width:600px;text-align:center;"><svg class="o" viewBox="0 0 1139 1480"><path transform="matrix(1 0 0 -1 0 1480)" d="M583 0L763 0L763 1472L646 1472C615 1409 563 1344 490 1277C417 1210 330 1150 222 1104L222 930C282 952 350 985 426 1028C502 1071 554 1111 583 1147Z"/></svg>.30</div>
<div class="t" style="top:569px;font-size:16.5px;line-height:16.5px;color:#231f20;font-weight:bold;left:-247.62px;width:600px;text-align:center;transform:scaleX(1.08);transform-origin:50% 0;">I</div>
<div class="t" style="top:569px;font-size:17.8px;line-height:17.8px;color:#231f20;left:-139.10px;width:600px;text-align:center;">0.06</div>
<div class="t" style="top:569px;font-size:17.8px;line-height:17.8px;color:#231f20;left:1.35px;width:600px;text-align:center;">0.07</div>
<div class="t" style="top:569px;font-size:17.8px;line-height:17.8px;color:#231f20;left:141.85px;width:600px;text-align:center;">0.08</div>
<div class="t" style="top:569px;font-size:17.8px;line-height:17.8px;color:#231f20;left:282.10px;width:600px;text-align:center;">0.08</div>
<div class="t" style="top:569px;font-size:17.8px;line-height:17.8px;color:#231f20;left:422.40px;width:600px;text-align:center;">0.09</div>
<div class="t" style="top:569px;font-size:17.8px;line-height:17.8px;color:#231f20;left:562.85px;width:600px;text-align:center;">0.09</div>
<div class="t" style="top:592px;font-size:16.5px;line-height:16.5px;color:#231f20;font-weight:bold;left:-247.62px;width:600px;text-align:center;transform:scaleX(1.08);transform-origin:50% 0;">J</div>
<div class="t" style="top:592px;font-size:17.8px;line-height:17.8px;color:#231f20;left:-139.10px;width:600px;text-align:center;">0.07</div>
<div class="t" style="top:592px;font-size:17.8px;line-height:17.8px;color:#231f20;left:1.35px;width:600px;text-align:center;">0.07</div>
<div class="t" style="top:592px;font-size:17.8px;line-height:17.8px;color:#231f20;left:141.85px;width:600px;text-align:center;">0.09</div>
<div class="t" style="top:592px;font-size:17.8px;line-height:17.8px;color:#231f20;left:282.10px;width:600px;text-align:center;">0.09</div>
<div class="t" style="top:592px;font-size:17.8px;line-height:17.8px;color:#231f20;left:422.40px;width:600px;text-align:center;">0.09</div>
<div class="t" style="top:592px;font-size:17.8px;line-height:17.8px;color:#231f20;left:562.85px;width:600px;text-align:center;">0.09</div>
<div class="t" style="top:616px;font-size:16.5px;line-height:16.5px;color:#231f20;font-weight:bold;left:-247.62px;width:600px;text-align:center;transform:scaleX(1.08);transform-origin:50% 0;">K</div>
<div class="t" style="top:616px;font-size:17.8px;line-height:17.8px;color:#231f20;left:-139.10px;width:600px;text-align:center;">0.49</div>
<div class="t" style="top:616px;font-size:17.8px;line-height:17.8px;color:#231f20;left:1.35px;width:600px;text-align:center;">0.52</div>
<div class="t" style="top:616px;font-size:17.8px;line-height:17.8px;color:#231f20;left:141.85px;width:600px;text-align:center;">0.56</div>
<div class="t" style="top:616px;font-size:17.8px;line-height:17.8px;color:#231f20;left:282.10px;width:600px;text-align:center;">0.8<svg class="o" viewBox="0 0 1139 1480"><path transform="matrix(1 0 0 -1 0 1480)" d="M583 0L763 0L763 1472L646 1472C615 1409 563 1344 490 1277C417 1210 330 1150 222 1104L222 930C282 952 350 985 426 1028C502 1071 554 1111 583 1147Z"/></svg></div>
<div class="t" style="top:616px;font-size:17.8px;line-height:17.8px;color:#231f20;left:422.40px;width:600px;text-align:center;">0.94</div>
<div class="t" style="top:616px;font-size:17.8px;line-height:17.8px;color:#231f20;left:562.85px;width:600px;text-align:center;">0.96</div>
<div class="t" style="top:639px;font-size:16.5px;line-height:16.5px;color:#231f20;font-weight:bold;left:-247.62px;width:600px;text-align:center;transform:scaleX(1.08);transform-origin:50% 0;">X</div>
<div class="t" style="top:639px;font-size:17.8px;line-height:17.8px;color:#231f20;left:-139.10px;width:600px;text-align:center;">0.38</div>
<div class="t" style="top:639px;font-size:17.8px;line-height:17.8px;color:#231f20;left:1.35px;width:600px;text-align:center;">0.40</div>
<div class="t" style="top:639px;font-size:17.8px;line-height:17.8px;color:#231f20;left:141.85px;width:600px;text-align:center;">0.40</div>
<div class="t" style="top:639px;font-size:17.8px;line-height:17.8px;color:#231f20;left:282.10px;width:600px;text-align:center;">0.45</div>
<div class="t" style="top:639px;font-size:17.8px;line-height:17.8px;color:#231f20;left:422.40px;width:600px;text-align:center;">0.50</div>
<div class="t" style="top:639px;font-size:17.8px;line-height:17.8px;color:#231f20;left:562.85px;width:600px;text-align:center;">0.55</div>
</body></html>
